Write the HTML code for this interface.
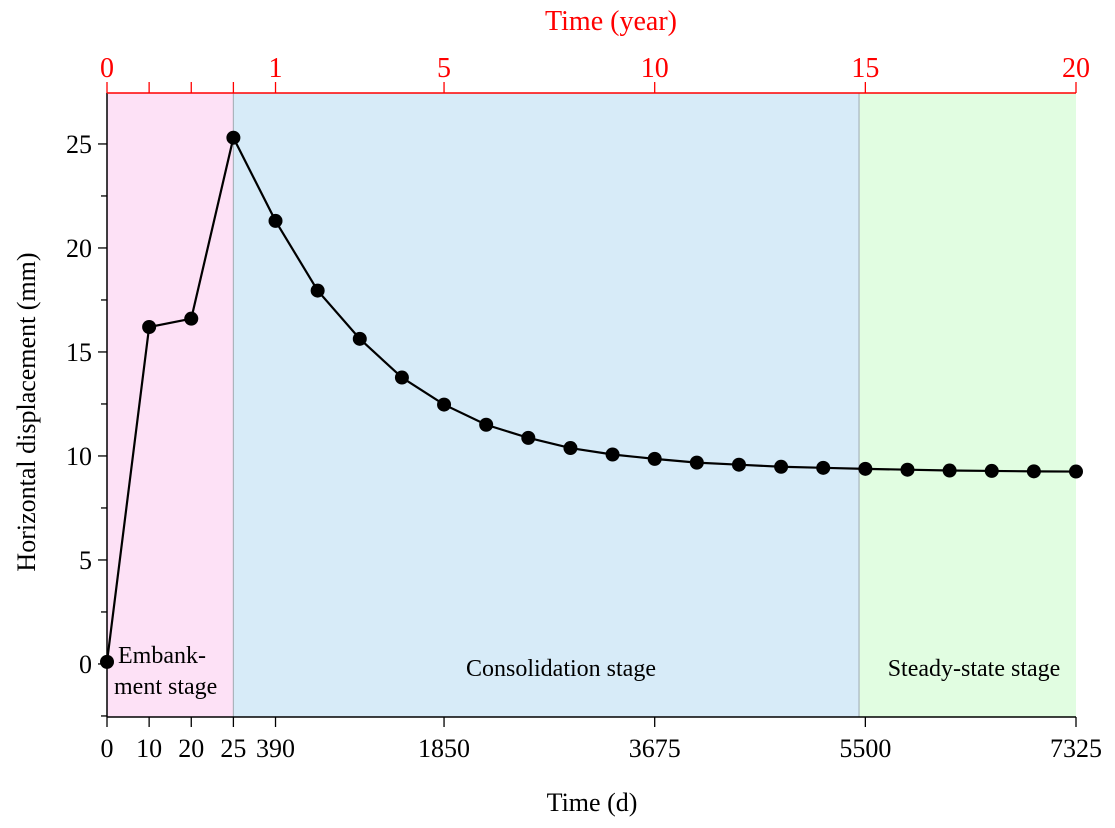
<!DOCTYPE html>
<html><head><meta charset="utf-8"><style>
body{margin:0;background:#fff}
svg{display:block;font-family:"Liberation Serif",serif}
</style></head><body>
<svg id="chart" width="1115" height="828" viewBox="0 0 1115 828" xmlns="http://www.w3.org/2000/svg">
<g id="bg"></g><g id="axes"></g><g id="series"></g>
</svg>
<script>
const bottomLabels=["0","10","20","25","390","1850","3675","5500","7325"];
const bottomIdx=[0,1,2,3,4,8,13,18,23];
const topLabels=["0","","","","1","5","10","15","20"];
const topIdx=[0,1,2,3,4,8,13,18,23];
const values=[0.1,16.2,16.6,25.3,21.3,17.95,15.63,13.77,12.47,11.5,10.87,10.38,10.07,9.86,9.68,9.58,9.48,9.43,9.38,9.34,9.3,9.28,9.26,9.25];
const yTicks=[0,5,10,15,20,25];
const stages=[{name:"embankment",from:0,to:3,color:"#fde1f6"},{name:"consolidation",from:3,to:17.85,color:"#d7ebf8"},{name:"steady-state",from:17.85,to:23,color:"#e1fde1"}];
const NS="http://www.w3.org/2000/svg";
const X0=107,X1=1076,Y0=717,Y1=93,yMin=-2.55,yMax=27.45;
const n=values.length;
const xs=i=>X0+(X1-X0)*i/(n-1);
const ys=v=>Y0-(v-yMin)/(yMax-yMin)*(Y0-Y1);
function mk(tag,attrs,parent,text){const e=document.createElementNS(NS,tag);for(const k in attrs)e.setAttribute(k,attrs[k]);if(text!==undefined)e.textContent=text;document.getElementById(parent).appendChild(e);return e;}
stages.forEach(s=>{
 const r=mk("rect",{x:xs(s.from),y:Y1,width:xs(s.to)-xs(s.from),height:Y0-Y1,fill:s.color},"bg");
 
 
});
[3,17.85].forEach(i=>{const l=mk("line",{x1:xs(i),x2:xs(i),y1:Y1,y2:Y0,stroke:"#a9b4bc","stroke-width":1.2},"bg");
 
 });
let a=mk("line",{x1:X0,x2:X0,y1:Y1,y2:Y0,stroke:"#000","stroke-width":1.5},"axes");

a=mk("line",{x1:X0,x2:X1,y1:Y0,y2:Y0,stroke:"#000","stroke-width":1.5},"axes");

a=mk("line",{x1:X0,x2:X1,y1:Y1,y2:Y1,stroke:"#f00","stroke-width":1.5},"axes");

for(let v=-2.5;v<=27.5;v+=2.5){if(v<yMin||v>yMax)continue;const maj=Math.abs(v%5)<1e-9;
 mk("line",{x1:X0-(maj?9:6),x2:X0,y1:ys(v),y2:ys(v),stroke:"#000","stroke-width":1.3},"axes");}
yTicks.forEach(v=>{const t=mk("text",{x:X0-15,y:ys(v)+9,"text-anchor":"end","font-size":26},"axes",String(v));
 });
bottomIdx.forEach((i,k)=>{mk("line",{x1:xs(i),x2:xs(i),y1:Y0,y2:Y0+10,stroke:"#000","stroke-width":1.3},"axes");
 const t=mk("text",{x:xs(i),y:Y0+40,"text-anchor":"middle","font-size":26},"axes",bottomLabels[k]);
 });
topIdx.forEach((i,k)=>{mk("line",{x1:xs(i),x2:xs(i),y1:Y1,y2:Y1-11,stroke:"#f00","stroke-width":1.3},"axes");
 if(topLabels[k]){const t=mk("text",{x:xs(i),y:Y1-16,"text-anchor":"middle","font-size":28,fill:"#f00"},"axes",topLabels[k]);
 }});
let t=mk("text",{x:592,y:811,"text-anchor":"middle","font-size":26},"axes","Time (d)");

t=mk("text",{x:611,y:30,"text-anchor":"middle","font-size":28,fill:"#f00"},"axes","Time (year)");

t=mk("text",{x:0,y:0,"text-anchor":"middle","font-size":26,transform:"translate(35,412) rotate(-90)"},"axes","Horizontal displacement (mm)");

t=mk("text",{x:118,y:663,"font-size":24},"axes","Embank-");

t=mk("text",{x:114,y:694,"font-size":24},"axes","ment stage");

t=mk("text",{x:561,y:676,"text-anchor":"middle","font-size":24},"axes","Consolidation stage");

t=mk("text",{x:974,y:676,"text-anchor":"middle","font-size":24},"axes","Steady-state stage");

const pts=values.map((v,i)=>xs(i)+","+ys(v)).join(" ");
const pl=mk("polyline",{points:pts,fill:"none",stroke:"#000","stroke-width":2.2},"series");

values.forEach((v,i)=>{const c=mk("circle",{cx:xs(i),cy:ys(v),r:7,fill:"#000"},"series");
 
 });
</script>
</body></html>
